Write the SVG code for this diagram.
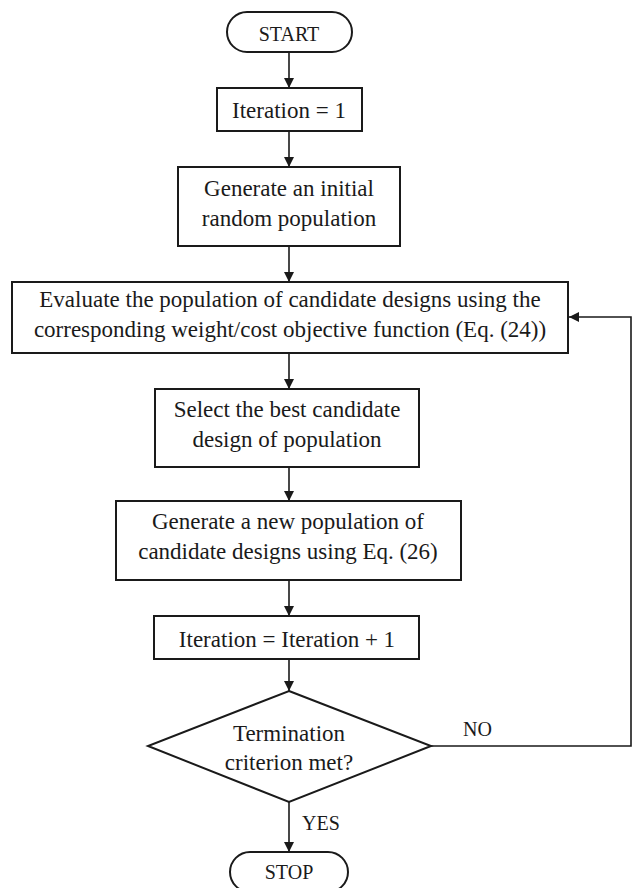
<svg xmlns="http://www.w3.org/2000/svg" width="633" height="888" viewBox="0 0 633 888">
<style>
.box{fill:#fff;stroke:#1a1a1a;stroke-width:2}
.t{font-family:"Liberation Serif","Times New Roman",serif;font-size:23px;fill:#1a1a1a;text-anchor:middle}
.c{font-size:20px}
.l{font-family:"Liberation Serif","Times New Roman",serif;font-size:20px;fill:#1a1a1a}
.ln{fill:none;stroke:#1a1a1a;stroke-width:1.6}
</style>
<defs>
<marker id="ah" viewBox="0 0 10 10" refX="10" refY="5" markerWidth="10" markerHeight="10" markerUnits="userSpaceOnUse" orient="auto">
<path d="M0,0 L10,5 L0,10 z" fill="#1a1a1a"/>
</marker>
</defs>
<rect width="633" height="888" fill="#fff"/>
<g id="connectors">
<line class="ln" x1="289" y1="52" x2="289" y2="88" marker-end="url(#ah)"/>
<line class="ln" x1="289" y1="131" x2="289" y2="167" marker-end="url(#ah)"/>
<line class="ln" x1="289" y1="246" x2="289" y2="282" marker-end="url(#ah)"/>
<line class="ln" x1="289" y1="353" x2="289" y2="389" marker-end="url(#ah)"/>
<line class="ln" x1="289" y1="467" x2="289" y2="501" marker-end="url(#ah)"/>
<line class="ln" x1="289" y1="580" x2="289" y2="616" marker-end="url(#ah)"/>
<line class="ln" x1="289" y1="659" x2="289" y2="691" marker-end="url(#ah)"/>
<line class="ln" x1="289" y1="802" x2="289" y2="852" marker-end="url(#ah)"/>
<polyline class="ln" points="431,746 631,746 631,317 569,317" marker-end="url(#ah)"/>
<text class="l" x="463" y="736">NO</text>
<text class="l" x="302" y="830">YES</text>
</g>
<g id="start">
<rect class="box" x="227" y="12" width="125" height="40" rx="20"/>
<text class="t c" x="289" y="41">START</text>
</g>
<g id="iter1">
<rect class="box" x="217" y="88" width="145" height="43"/>
<text class="t" x="289" y="118">Iteration = 1</text>
</g>
<g id="geninit">
<rect class="box" x="178" y="167" width="222" height="79"/>
<text class="t" x="289" y="196">Generate an initial</text>
<text class="t" x="289" y="226">random population</text>
</g>
<g id="evaluate">
<rect class="box" x="12" y="282" width="556" height="71"/>
<text class="t" x="290" y="307">Evaluate the population of candidate designs using the</text>
<text class="t" x="290" y="337">corresponding weight/cost objective function (Eq. (24))</text>
</g>
<g id="select">
<rect class="box" x="155" y="389" width="264" height="78"/>
<text class="t" x="287" y="417">Select the best candidate</text>
<text class="t" x="287" y="447">design of population</text>
</g>
<g id="gennew">
<rect class="box" x="116" y="501" width="345" height="79"/>
<text class="t" x="288" y="529">Generate a new population of</text>
<text class="t" x="288" y="559">candidate designs using Eq. (26)</text>
</g>
<g id="iterinc">
<rect class="box" x="154" y="616" width="265" height="43"/>
<text class="t" x="287" y="647">Iteration = Iteration + 1</text>
</g>
<g id="decision">
<polygon class="box" points="289,691 431,746 289,802 148,746"/>
<text class="t" x="289" y="741">Termination</text>
<text class="t" x="289" y="770">criterion met?</text>
</g>
<g id="stop">
<rect class="box" x="230" y="852" width="118" height="40" rx="20"/>
<text class="t c" x="289" y="879">STOP</text>
</g>
</svg>
